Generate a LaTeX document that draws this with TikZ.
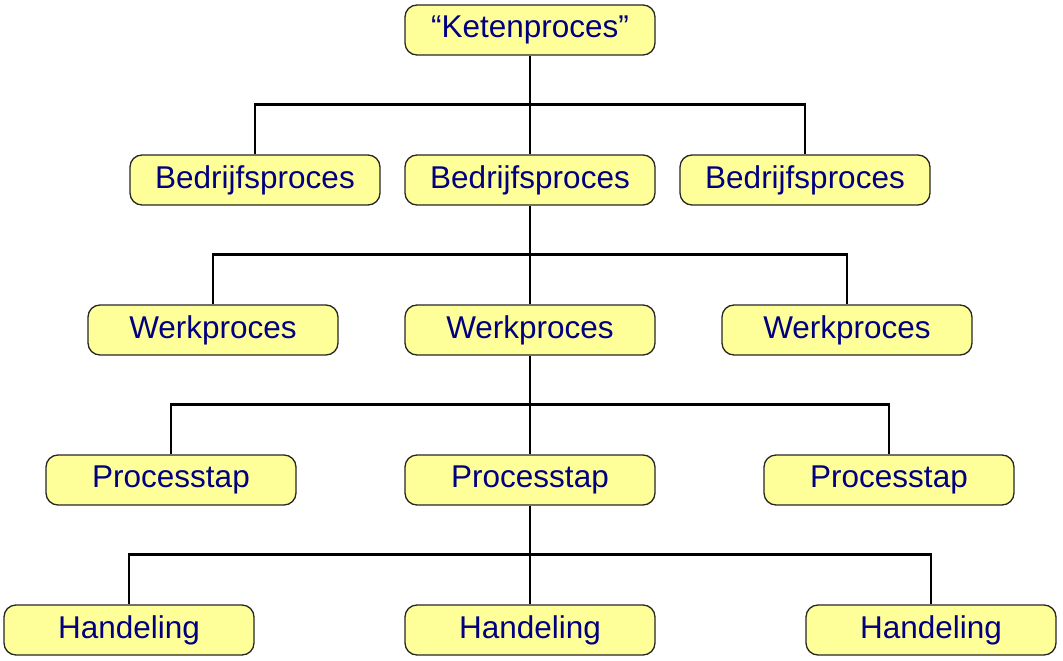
\documentclass[tikz,border=0pt]{standalone}
\usepackage{fontspec}
\setmainfont{Liberation Sans}
\definecolor{geel}{RGB}{255,255,153}
\definecolor{marine}{RGB}{0,0,128}
\tikzset{
  blok/.style={draw=black!85,line width=1.3pt,fill=geel,rounded corners=12pt,
    minimum width=250pt,minimum height=50pt,inner sep=0pt,
    text=marine,font=\fontsize{31.5}{36}\selectfont},
  lijn/.style={line width=2.8pt}
}
% tak: middle node to the bus, then the two side nodes
\newcommand{\tak}[4]{%
  \draw[lijn] (#1.south) -- (#3.north);
  \draw[lijn] (#2.north) -- ++(0,-50) -| (#4.north);}

\begin{document}
\begin{tikzpicture}[x=1pt,y=-1pt]
  \useasboundingbox (0,0) rectangle (1063,661);

  \node[blok] (k)  at (530,30)  {``Ketenproces''};

  \node[blok] (b1) at (255,180) {Bedrijfsproces};
  \node[blok] (b2) at (530,180) {Bedrijfsproces};
  \node[blok] (b3) at (805,180) {Bedrijfsproces};

  \node[blok] (w1) at (213,330) {Werkproces};
  \node[blok] (w2) at (530,330) {Werkproces};
  \node[blok] (w3) at (847,330) {Werkproces};

  \node[blok] (p1) at (171,480) {Processtap};
  \node[blok] (p2) at (530,480) {Processtap};
  \node[blok] (p3) at (889,480) {Processtap};

  \node[blok] (h1) at (129,630) {Handeling};
  \node[blok] (h2) at (530,630) {Handeling};
  \node[blok] (h3) at (931,630) {Handeling};

  \tak{k}{b1}{b2}{b3}
  \tak{b2}{w1}{w2}{w3}
  \tak{w2}{p1}{p2}{p3}
  \tak{p2}{h1}{h2}{h3}
\end{tikzpicture}
\end{document}
